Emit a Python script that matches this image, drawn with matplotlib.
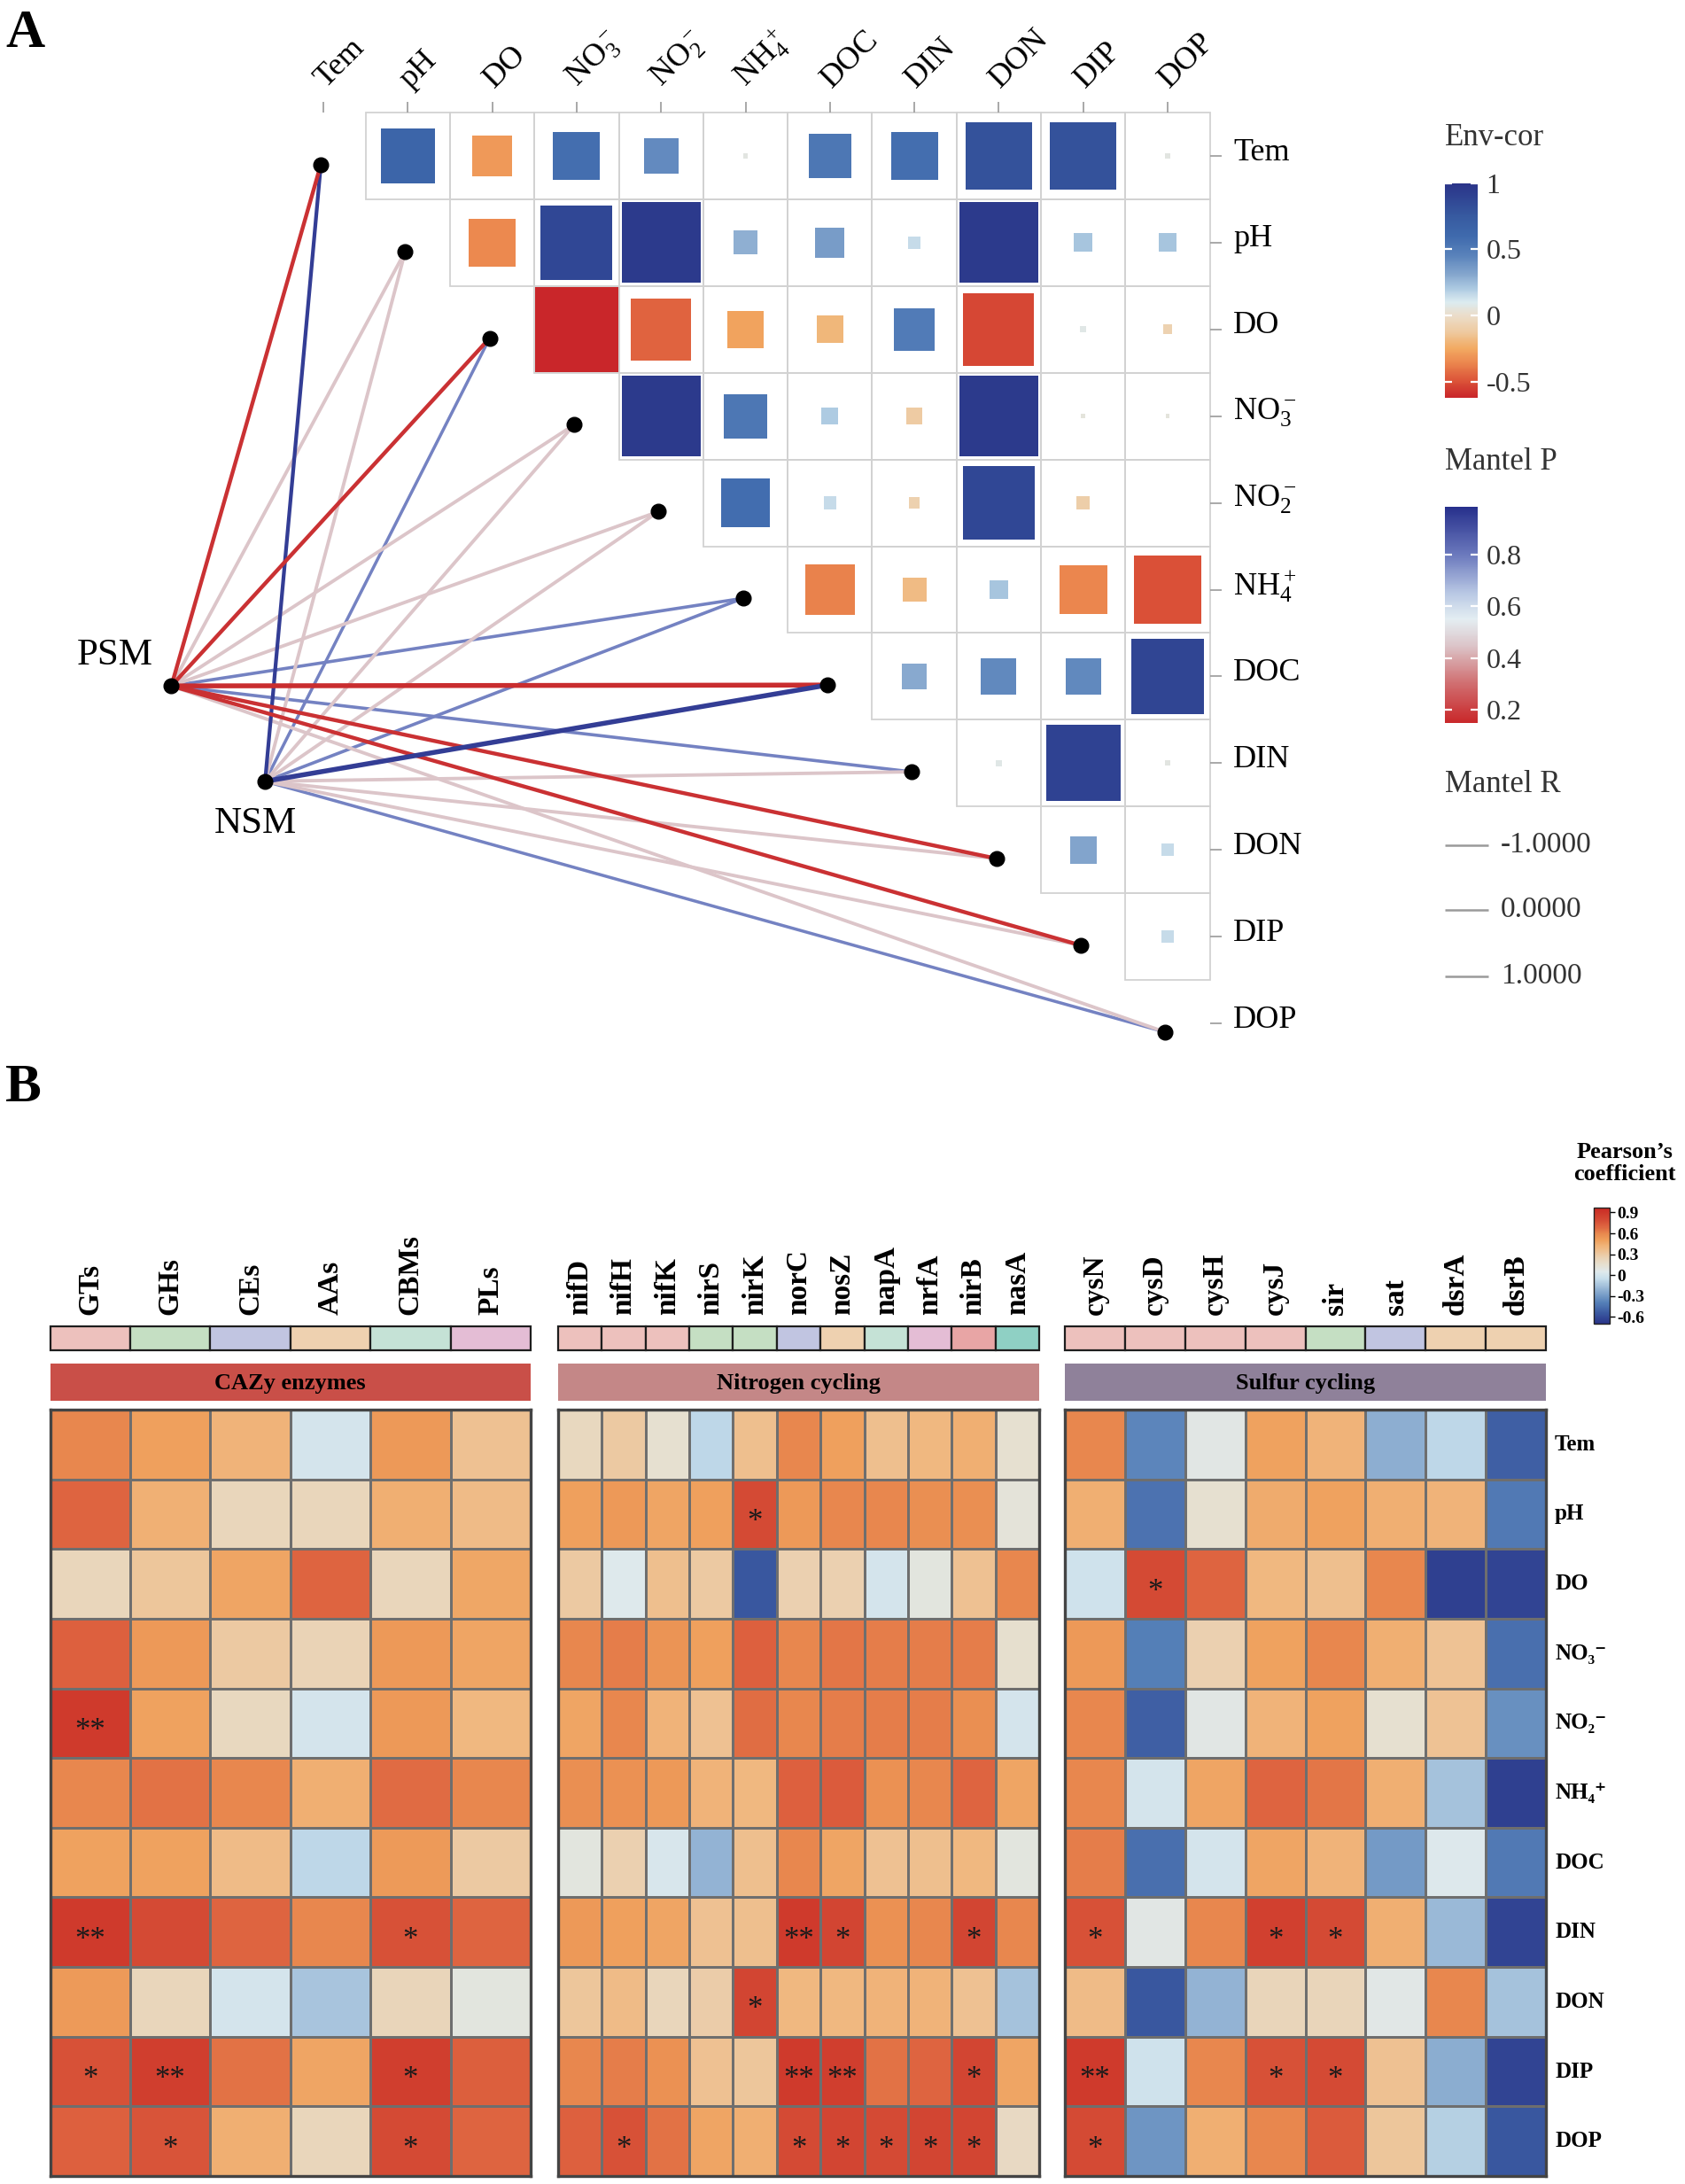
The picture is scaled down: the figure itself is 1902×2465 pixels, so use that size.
import numpy as np
import matplotlib
matplotlib.use("Agg")
import matplotlib.pyplot as plt
from matplotlib.colors import LinearSegmentedColormap, Normalize
from matplotlib.cm import ScalarMappable
from matplotlib.patches import Rectangle
import matplotlib.transforms as mtransforms

plt.rcParams['font.family'] = ['Liberation Serif', 'DejaVu Serif']
plt.rcParams['mathtext.fontset'] = 'stix'

# ---------------- Panel A data ----------------
env_names = ['Tem', 'pH', 'DO', 'NO3-', 'NO2-', 'NH4+', 'DOC', 'DIN', 'DON', 'DIP', 'DOP']
env_labels = ['Tem', 'pH', 'DO', r'$\mathregular{NO_3^-}$', r'$\mathregular{NO_2^-}$',
              r'$\mathregular{NH_4^+}$', 'DOC', 'DIN', 'DON', 'DIP', 'DOP']

# upper triangle of environmental correlations: row i vs columns i+1 .. 10
env_cor = [
    [0.65, -0.30, 0.57, 0.42, 0.06, 0.52, 0.57, 0.80, 0.80, 0.06],
    [-0.35, 0.87, 0.95, 0.28, 0.35, 0.15, 0.95, 0.22, 0.22],
    [-0.62, -0.45, -0.27, -0.20, 0.50, -0.53, 0.07, -0.07],
    [0.95, 0.52, 0.20, -0.12, 0.95, 0.05, 0.05],
    [0.58, 0.15, -0.08, 0.87, -0.10, 0.0],
    [-0.37, -0.18, 0.22, -0.36, -0.50],
    [0.30, 0.43, 0.43, 0.88],
    [0.07, 0.90, 0.06],
    [0.32, 0.15],
    [0.15],
]

mantel_groups = ['PSM', 'NSM']
mantel_p_psm = [0.17, 0.45, 0.17, 0.45, 0.45, 0.78, 0.16, 0.78, 0.17, 0.17, 0.45]
mantel_p_nsm = [0.95, 0.45, 0.78, 0.45, 0.45, 0.78, 0.95, 0.45, 0.45, 0.45, 0.78]
mantel_r_psm = [0.30, 0.15, 0.30, 0.15, 0.15, 0.08, 0.60, 0.08, 0.30, 0.30, 0.15]
mantel_r_nsm = [0.25, 0.15, 0.05, 0.15, 0.15, 0.08, 0.60, 0.15, 0.15, 0.15, 0.05]

envcor_ticks = [1, 0.5, 0, -0.5]
mantelp_ticks = [0.8, 0.6, 0.4, 0.2]
mantelr_legend = ['-1.0000', '0.0000', '1.0000']

# ---------------- Panel B data ----------------
row_labels_b = ['Tem', 'pH', 'DO', 'NO₃⁻', 'NO₂⁻', 'NH₄⁺', 'DOC', 'DIN', 'DON', 'DIP', 'DOP']

cazy_genes = ['GTs', 'GHs', 'CEs', 'AAs', 'CBMs', 'PLs']
cazy_ann = ['#edc1bd', '#c5dfc3', '#c1c5e1', '#eed1b0', '#c5e2d6', '#e4bdd5']
cazy_r = [
    [0.60, 0.50, 0.42, 0.00, 0.53, 0.35],
    [0.70, 0.43, 0.22, 0.22, 0.44, 0.38],
    [0.22, 0.32, 0.48, 0.70, 0.22, 0.47],
    [0.71, 0.53, 0.30, 0.24, 0.53, 0.48],
    [0.88, 0.49, 0.21, 0.00, 0.53, 0.40],
    [0.60, 0.66, 0.60, 0.44, 0.68, 0.60],
    [0.49, 0.49, 0.38, -0.08, 0.52, 0.30],
    [0.88, 0.80, 0.70, 0.60, 0.77, 0.70],
    [0.52, 0.22, 0.00, -0.14, 0.23, 0.10],
    [0.77, 0.86, 0.66, 0.48, 0.86, 0.72],
    [0.71, 0.76, 0.44, 0.22, 0.80, 0.70],
]
cazy_sig = [
    ['', '', '', '', '', ''],
    ['', '', '', '', '', ''],
    ['', '', '', '', '', ''],
    ['', '', '', '', '', ''],
    ['**', '', '', '', '', ''],
    ['', '', '', '', '', ''],
    ['', '', '', '', '', ''],
    ['**', '', '', '', '*', ''],
    ['', '', '', '', '', ''],
    ['*', '**', '', '', '*', ''],
    ['', '*', '', '', '*', ''],
]

nitro_genes = ['nifD', 'nifH', 'nifK', 'nirS', 'nirK', 'norC', 'nosZ', 'napA', 'nrfA', 'nirB', 'nasA']
nitro_ann = ['#edc1bd', '#edc1bd', '#edc1bd', '#c5dfc3', '#c5dfc3', '#c1c5e1', '#eed1b0',
             '#c5e2d6', '#e4bdd5', '#e8a5a5', '#8fd0c4']
nitro_r = [
    [0.21, 0.30, 0.15, -0.08, 0.36, 0.60, 0.50, 0.36, 0.40, 0.44, 0.15],
    [0.50, 0.53, 0.48, 0.50, 0.80, 0.53, 0.60, 0.60, 0.57, 0.57, 0.12],
    [0.30, 0.05, 0.36, 0.30, -0.55, 0.26, 0.26, 0.00, 0.10, 0.35, 0.60],
    [0.60, 0.63, 0.55, 0.50, 0.71, 0.60, 0.65, 0.63, 0.63, 0.63, 0.16],
    [0.48, 0.60, 0.42, 0.35, 0.67, 0.60, 0.63, 0.63, 0.63, 0.57, 0.00],
    [0.57, 0.56, 0.53, 0.42, 0.40, 0.71, 0.73, 0.56, 0.60, 0.70, 0.48],
    [0.10, 0.26, 0.02, -0.20, 0.36, 0.60, 0.48, 0.35, 0.36, 0.40, 0.10],
    [0.53, 0.50, 0.48, 0.35, 0.36, 0.88, 0.82, 0.56, 0.60, 0.82, 0.60],
    [0.32, 0.38, 0.22, 0.28, 0.82, 0.40, 0.40, 0.42, 0.42, 0.35, -0.15],
    [0.60, 0.63, 0.56, 0.35, 0.32, 0.88, 0.86, 0.66, 0.70, 0.82, 0.48],
    [0.71, 0.77, 0.66, 0.48, 0.44, 0.80, 0.82, 0.80, 0.82, 0.82, 0.20],
]
nitro_sig = [
    ['', '', '', '', '', '', '', '', '', '', ''],
    ['', '', '', '', '*', '', '', '', '', '', ''],
    ['', '', '', '', '', '', '', '', '', '', ''],
    ['', '', '', '', '', '', '', '', '', '', ''],
    ['', '', '', '', '', '', '', '', '', '', ''],
    ['', '', '', '', '', '', '', '', '', '', ''],
    ['', '', '', '', '', '', '', '', '', '', ''],
    ['', '', '', '', '', '**', '*', '', '', '*', ''],
    ['', '', '', '', '*', '', '', '', '', '', ''],
    ['', '', '', '', '', '**', '**', '', '', '*', ''],
    ['', '*', '', '', '', '*', '*', '*', '*', '*', ''],
]

sulfur_genes = ['cysN', 'cysD', 'cysH', 'cysJ', 'sir', 'sat', 'dsrA', 'dsrB']
sulfur_ann = ['#edc1bd', '#edc1bd', '#edc1bd', '#edc1bd', '#c5dfc3', '#c1c5e1', '#eed1b0', '#eed1b0']
sulfur_r = [
    [0.60, -0.38, 0.08, 0.49, 0.42, -0.22, -0.08, -0.52],
    [0.44, -0.45, 0.15, 0.45, 0.49, 0.44, 0.42, -0.42],
    [-0.02, 0.80, 0.70, 0.40, 0.36, 0.60, -0.65, -0.63],
    [0.53, -0.40, 0.26, 0.49, 0.60, 0.44, 0.34, -0.46],
    [0.60, -0.52, 0.08, 0.42, 0.49, 0.15, 0.34, -0.34],
    [0.60, 0.00, 0.48, 0.70, 0.65, 0.44, -0.15, -0.65],
    [0.63, -0.46, 0.00, 0.48, 0.42, -0.30, 0.04, -0.42],
    [0.77, 0.08, 0.60, 0.85, 0.80, 0.44, -0.18, -0.63],
    [0.38, -0.55, -0.20, 0.23, 0.23, 0.07, 0.60, -0.15],
    [0.88, -0.02, 0.60, 0.77, 0.80, 0.35, -0.23, -0.63],
    [0.80, -0.32, 0.44, 0.60, 0.73, 0.32, -0.10, -0.55],
]
sulfur_sig = [
    ['', '', '', '', '', '', '', ''],
    ['', '', '', '', '', '', '', ''],
    ['', '*', '', '', '', '', '', ''],
    ['', '', '', '', '', '', '', ''],
    ['', '', '', '', '', '', '', ''],
    ['', '', '', '', '', '', '', ''],
    ['', '', '', '', '', '', '', ''],
    ['*', '', '', '*', '*', '', '', ''],
    ['', '', '', '', '', '', '', ''],
    ['**', '', '', '*', '*', '', '', ''],
    ['*', '', '', '', '', '', '', ''],
]

block_titles = ['CAZy enzymes', 'Nitrogen cycling', 'Sulfur cycling']
block_colors = ['#c94f48', '#c48787', '#8f819a']
pearson_ticks = [0.9, 0.6, 0.3, 0, -0.3, -0.6]

# ---------------- colour maps ----------------
def make_cmap(name, anchors, vmin, vmax):
    pos = [(v - vmin) / (vmax - vmin) for v, _ in anchors]
    cols = [c for _, c in anchors]
    return LinearSegmentedColormap.from_list(name, list(zip(pos, cols)))

E_MIN, E_MAX = -0.62, 1.0
cmapE = make_cmap('envcor', [(-0.62, '#c9262a'), (-0.5, '#db5238'), (-0.35, '#ec8a50'),
                             (-0.25, '#f2aa62'), (-0.12, '#eecba2'), (0.0, '#ebddca'),
                             (0.1, '#dcebf0'), (0.2, '#aecbe2'), (0.3, '#88a9cf'),
                             (0.45, '#5a83bb'), (0.6, '#3f6aad'), (0.75, '#375aa0'),
                             (0.9, '#2f4392'), (1.0, '#2a3388')], E_MIN, E_MAX)
normE = Normalize(E_MIN, E_MAX)

P_MIN, P_MAX = 0.15, 0.985
cmapP = make_cmap('mantelp', [(0.15, '#c9282a'), (0.3, '#d06e70'), (0.45, '#dcc6ca'),
                              (0.55, '#e4eef2'), (0.65, '#b9c8e4'), (0.8, '#6b79bd'),
                              (0.985, '#27308c')], P_MIN, P_MAX)
normP = Normalize(P_MIN, P_MAX)

B_MIN, B_MAX = -0.70, 0.97
cmapB = make_cmap('pearson', [(-0.70, '#2a3589'), (-0.55, '#3a58a0'), (-0.40, '#5580b8'),
                              (-0.20, '#94b4d4'), (-0.05, '#c8dfec'), (0.05, '#dfe9ec'),
                              (0.15, '#e6e0d0'), (0.25, '#ead2b4'), (0.40, '#f0b880'),
                              (0.50, '#efa05c'), (0.60, '#e8884e'), (0.70, '#de6440'),
                              (0.80, '#d44a34'), (0.97, '#c92a24')], B_MIN, B_MAX)
normB = Normalize(B_MIN, B_MAX)

# ---------------- figure ----------------
W, H = 1902, 2465
fig = plt.figure(figsize=(W / 100, H / 100), dpi=100)

def fax(x0, y0, x1, y1):
    return fig.add_axes([x0 / W, 1 - y1 / H, (x1 - x0) / W, (y1 - y0) / H])

# overlay in pixel coordinates for panel letters and legend titles
axO = fax(0, 0, W, H)
axO.set_xlim(0, W)
axO.set_ylim(H, 0)
axO.axis('off')

# Panel A axes (data units: column / row index)
CX0, CDX, RY0, RDY = 365, 95.3, 176, 97.9
axA = fax(0, 0, W, H)
axA.set_xlim(-CX0 / CDX, (W - CX0) / CDX)
axA.set_ylim((H - RY0) / RDY, -RY0 / RDY)
axA.axis('off')

n_env = len(env_names)
pos_max = max(v for row in env_cor for v in row if v > 0)
neg_max = max(-v for row in env_cor for v in row if v < 0)

def side_of(r):
    if r >= 0:
        return 0.93 * r / pos_max
    return min(1.0, 0.98 * (-r) / neg_max)

for i, row in enumerate(env_cor):
    for k, r in enumerate(row):
        j = i + 1 + k
        axA.add_patch(Rectangle((j - 0.5, i - 0.5), 1, 1, fill=False, ec='#d2d2d2', lw=1.3, zorder=1))
        s = side_of(r)
        if s > 0:
            axA.add_patch(Rectangle((j - s / 2, i - s / 2), s, s, fc=cmapE(normE(r)), ec='none', zorder=2))

# axis ticks / labels of the correlation grid
for j in range(n_env):
    axA.plot([j, j], [-0.5, -0.625], color='#9a9a9a', lw=1.2, solid_capstyle='butt', zorder=1)
    axA.text(j + 0.08, -0.72, env_labels[j], rotation=45, rotation_mode='anchor',
             ha='left', va='bottom', fontsize=26, color='black')
for i in range(n_env):
    axA.plot([10.5, 10.64], [i, i], color='#9a9a9a', lw=1.2, solid_capstyle='butt', zorder=1)
    axA.text(10.78, i - 0.04, env_labels[i], ha='left', va='center', fontsize=26, color='black')

# Mantel links
nodes = {'PSM': (-1.80, 6.11), 'NSM': (-0.69, 7.21)}
links = []
for g, ps, rs in [('PSM', mantel_p_psm, mantel_r_psm), ('NSM', mantel_p_nsm, mantel_r_nsm)]:
    for k in range(n_env):
        links.append((rs[k], g, k, ps[k]))
links.sort(key=lambda t: t[0])
for r, g, k, p in links:
    x0, y0 = nodes[g]
    axA.plot([x0, k - 0.03], [y0, k + 0.1], color=cmapP(normP(p)), lw=2.4 + 2.6 * r,
             solid_capstyle='butt', zorder=3)
dots_x = [k - 0.03 for k in range(n_env)]
dots_y = [k + 0.1 for k in range(n_env)]
axA.plot(dots_x, dots_y, 'o', color='black', ms=12, zorder=5)
axA.plot([nodes[g][0] for g in mantel_groups], [nodes[g][1] for g in mantel_groups], 'o',
         color='black', ms=12, zorder=5)
axA.text(-2.47, 5.76, 'PSM', ha='center', va='center', fontsize=31)
axA.text(-0.80, 7.70, 'NSM', ha='center', va='center', fontsize=31)

# panel letters
axO.text(6, 10, 'A', ha='left', va='top', fontsize=44, fontweight='bold')
axO.text(6, 1200, 'B', ha='left', va='top', fontsize=44, fontweight='bold')

# legends panel A
leg_col = '#333333'
axO.text(1631, 156, 'Env-cor', ha='left', va='center', fontsize=25, color=leg_col)
axO.text(1631, 521, 'Mantel P', ha='left', va='center', fontsize=25, color=leg_col)
axO.text(1631, 886, 'Mantel R', ha='left', va='center', fontsize=25, color=leg_col)
for yy, lab in zip([954, 1027, 1102], mantelr_legend):
    axO.plot([1631, 1680], [yy, yy], color='#9a9a9a', lw=1.8, solid_capstyle='butt')
    axO.text(1694, yy, lab, ha='left', va='center', fontsize=24, color=leg_col)

def gg_colorbar(cax, cmap, norm, ticks):
    cb = fig.colorbar(ScalarMappable(norm=norm, cmap=cmap), cax=cax, ticks=ticks)
    cb.outline.set_visible(False)
    cax.tick_params(axis='y', direction='in', length=6, width=1.6, color='white',
                    left=True, right=True, labelleft=False, labelright=True,
                    labelsize=23, labelcolor=leg_col, pad=7)
    cb.set_ticklabels([('%g' % t) for t in ticks])
    return cb

caxE = fax(1631, 206.6, 1668, 448.6)
gg_colorbar(caxE, cmapE, normE, envcor_ticks)
caxP = fax(1631, 572, 1668, 815.5)
gg_colorbar(caxP, cmapP, normP, mantelp_ticks)

# ---------------- Panel B ----------------
HM_TOP, HM_BOT = 1591, 2456
blocks = [
    (cazy_genes, cazy_r, cazy_sig, cazy_ann, 56.5, 599),
    (nitro_genes, nitro_r, nitro_sig, nitro_ann, 630, 1173),
    (sulfur_genes, sulfur_r, sulfur_sig, sulfur_ann, 1202, 1745),
]
n_rows = len(row_labels_b)
for b, (genes, vals, sig, ann, x0, x1) in enumerate(blocks):
    n = len(genes)
    # annotation colour bar
    axa = fax(x0, 1497, x1, 1524)
    axa.bar(np.arange(n), np.ones(n), width=1.0, color=ann, edgecolor='#1e1e1e', linewidth=1.6,
            align='center', clip_on=False)
    axa.set_xlim(-0.5, n - 0.5)
    axa.set_ylim(0, 1)
    axa.axis('off')
    tr = mtransforms.blended_transform_factory(axa.transData, axa.transAxes)
    for j, gname in enumerate(genes):
        axa.text(j, 1 + 13 / 27, gname, transform=tr, rotation=90, ha='center', va='bottom',
                 fontsize=24, fontweight='bold')
    # category band
    axc = fax(x0, 1539, x1, 1581)
    axc.add_patch(Rectangle((0, 0), 1, 1, transform=axc.transAxes, fc=block_colors[b], ec='none'))
    axc.text(0.5, 0.47, block_titles[b], transform=axc.transAxes, ha='center', va='center',
             fontsize=19, fontweight='bold')
    axc.axis('off')
    # heatmap
    axh = fax(x0, HM_TOP, x1, HM_BOT)
    arr = np.array(vals)
    axh.pcolormesh(np.arange(n + 1), np.arange(n_rows + 1), arr, cmap=cmapB, norm=normB,
                   edgecolors='#6e6e6e', linewidth=2.0)
    axh.set_xlim(0, n)
    axh.set_ylim(n_rows, 0)
    axh.set_xticks([])
    axh.set_yticks([])
    for sp in axh.spines.values():
        sp.set_color('#444444')
        sp.set_linewidth(2.4)
    for i in range(n_rows):
        for j in range(n):
            if sig[i][j]:
                axh.text(j + 0.5, i + 0.62, sig[i][j], ha='center', va='center', fontsize=25,
                         color='#1a1a1a')

row_h = (HM_BOT - HM_TOP) / n_rows
for i, lab in enumerate(row_labels_b):
    axO.text(1755, HM_TOP + row_h * (i + 0.5), lab, ha='left', va='center', fontsize=18,
             fontweight='bold')

# Pearson colour bar
caxB = fax(1799, 1363, 1817, 1494)
cbB = fig.colorbar(ScalarMappable(norm=normB, cmap=cmapB), cax=caxB, ticks=pearson_ticks)
cbB.outline.set_linewidth(1.0)
cbB.outline.set_edgecolor('#222222')
cbB.set_ticklabels([('%g' % t) for t in pearson_ticks])
caxB.tick_params(axis='y', direction='out', length=4, width=1.0, labelsize=14, pad=2)
for t in caxB.get_yticklabels():
    t.set_fontweight('bold')
axO.text(1834, 1313, 'Pearson’s\ncoefficient', ha='center', va='center', fontsize=19,
         fontweight='bold', linespacing=1.15)

fig.savefig('out.png', dpi=100)
